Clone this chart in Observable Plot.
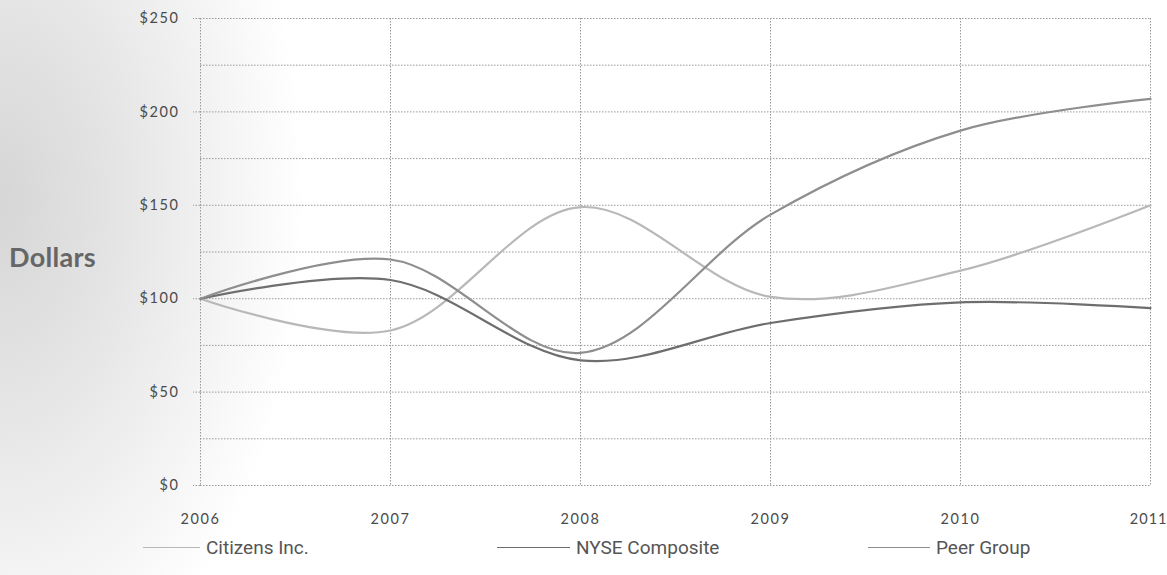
<!DOCTYPE html>
<html>
<head>
<meta charset="utf-8">
<script src="https://cdn.jsdelivr.net/npm/d3@7"></script>
<script src="https://cdn.jsdelivr.net/npm/@observablehq/plot@0.6"></script>
<style>
  html, body { margin: 0; padding: 0; background: #fff; }
  #wrap { position: relative; width: 1167px; height: 575px; overflow: hidden;
    background: radial-gradient(ellipse 380px 640px at 0px 200px, #d6d6d6 0%, #e4e4e4 30%, #f4f4f4 60%, #ffffff 80%); }
  #chart { position: absolute; left: 0; top: 0; }
  #ylab { position: absolute; left: 9px; top: 240px; font: bold 27px Lato, "Open Sans", sans-serif; color: #666; letter-spacing: 0.3px; }
  .leg { position: absolute; top: 536px; display: flex; align-items: center;
    font: 19px "Liberation Sans Narrow", "Roboto", sans-serif; color: #555; }
  .leg span.sw { display: inline-block; height: 0; border-top: 1.5px solid; margin-right: 6px; }
</style>
</head>
<body>
<div id="wrap">
  <div id="chart"></div>
  <div id="ylab">Dollars</div>
  <div id="legend"></div>
</div>
<script>
const years = [2006, 2007, 2008, 2009, 2010, 2011];
const citizens = [100, 83, 149, 101, 115, 150];
const nyse = [100, 110, 67, 87, 98, 95];
const peer = [100, 121, 71, 145, 190, 207];
const seriesNames = ["Citizens Inc.", "NYSE Composite", "Peer Group"];
const seriesColors = ["#b8b8b8", "#6e6e6e", "#8e8e8e"];
const yTicks = [0, 50, 100, 150, 200, 250];
const yGrid = [0, 25, 50, 75, 100, 125, 150, 175, 200, 225, 250];

const seriesValues = [citizens, nyse, peer];
const rows = [];
seriesNames.forEach((name, i) => years.forEach((yr, j) => rows.push({series: name, year: yr, value: seriesValues[i][j]})));

const chart = Plot.plot({
  width: 1167,
  height: 530,
  marginLeft: 200,
  marginRight: 17,
  marginTop: 18,
  marginBottom: 45,
  style: {fontFamily: "Lato, 'Open Sans', sans-serif", fontSize: "14.5px", color: "#4a4a4a", background: "transparent", letterSpacing: "1.6px"},
  x: {domain: [2006, 2011], ticks: years, tickFormat: "d", tickSize: 0, tickPadding: 28, label: null},
  y: {domain: [0, 250], ticks: yTicks, tickFormat: d => "$" + d, tickSize: 7, tickPadding: 14, label: null},
  color: {domain: seriesNames, range: seriesColors},
  marks: [
    Plot.gridY(yGrid, {stroke: "#999", strokeOpacity: 1, strokeDasharray: "1.5,1.5", strokeWidth: 1}),
    Plot.gridX(years, {stroke: "#999", strokeOpacity: 1, strokeDasharray: "1.5,1.5", strokeWidth: 1}),
    Plot.line(rows, {x: "year", y: "value", z: "series", stroke: "series", strokeWidth: 2.2, curve: "catmull-rom"})
  ]
});
chart.querySelectorAll('[aria-label="y-axis tick"] path, [aria-label="y-axis tick"] line').forEach(e => { e.setAttribute("stroke", "#999"); e.setAttribute("stroke-dasharray", "1.5,1.5"); });
const xLabels = chart.querySelectorAll('[aria-label="x-axis tick label"] text');
if (xLabels.length) {
  const last = xLabels[xLabels.length - 1];
  last.setAttribute("text-anchor", "end");
  last.setAttribute("dx", "17");
  last.style.letterSpacing = "1px";
}
document.getElementById("chart").appendChild(chart);

const legendPos = [[143, 57], [497, 73], [868, 62]];
const leg = document.getElementById("legend");
seriesNames.forEach((n, i) => {
  const d = document.createElement("div");
  d.className = "leg";
  d.style.left = legendPos[i][0] + "px";
  d.innerHTML = `<span class="sw" style="width:${legendPos[i][1]}px;border-color:${seriesColors[i]}"></span>${n}`;
  leg.appendChild(d);
});
</script>
</body>
</html>
